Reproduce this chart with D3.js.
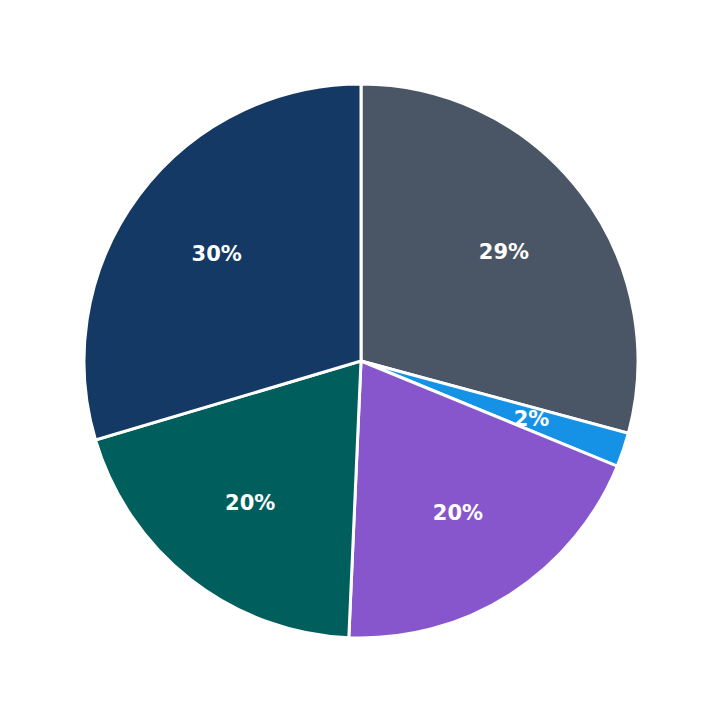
<!DOCTYPE html>
<html>
<head>
<meta charset="utf-8">
<script src="https://cdn.jsdelivr.net/npm/d3@7"></script>
<style>
  body { margin: 0; background: #fff; }
</style>
</head>
<body>
<svg id="chart"></svg>
<script>
// slice data, clockwise from 12 o'clock
const categories = ['A', 'B', 'C', 'D', 'E'];
const values = [29.2, 2.0, 19.5, 19.7, 29.6];
const colors = ['#4a5565', '#1592e6', '#8756cc', '#005f5d', '#143964'];

const width = 723, height = 723;
const cx = 361, cy = 361, radius = 277;

const svg = d3.select('#chart').attr('width', width).attr('height', height);
const g = svg.append('g').attr('transform', `translate(${cx},${cy})`);

const pie = d3.pie().sort(null).value(d => d.v);
const data = pie(categories.map((c, i) => ({ c, v: values[i], color: colors[i] })));
const total = d3.sum(values);

const arc = d3.arc().innerRadius(0).outerRadius(radius);
const labelArc = d3.arc().innerRadius(radius * 0.65).outerRadius(radius * 0.65);

g.selectAll('path')
  .data(data)
  .enter()
  .append('path')
  .attr('d', arc)
  .attr('fill', d => d.data.color)
  .attr('stroke', '#fff')
  .attr('stroke-width', 3);

g.selectAll('text')
  .data(data)
  .enter()
  .append('text')
  .attr('transform', d => `translate(${labelArc.centroid(d)})`)
  .attr('text-anchor', 'middle')
  .attr('dy', '0.35em')
  .attr('fill', '#fff')
  .attr('font-family', 'DejaVu Sans, sans-serif')
  .attr('font-weight', 'bold')
  .attr('font-size', '21px')
  .text(d => Math.round(d.data.v / total * 100) + '%');
</script>
</body>
</html>
